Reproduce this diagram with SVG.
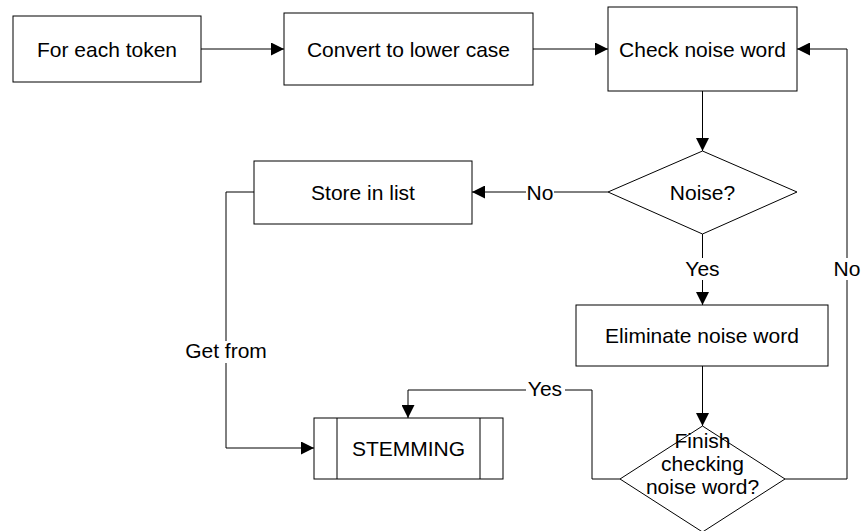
<svg xmlns="http://www.w3.org/2000/svg" width="861" height="531" viewBox="0 0 861 531">
  <style>
    .box { fill: #ffffff; stroke: #000000; stroke-width: 1; }
    .wire { fill: none; stroke: #000000; stroke-width: 1; }
    .txt { font-family: "Liberation Sans", Arial, sans-serif; font-size: 21px; fill: #000000; text-anchor: middle; }
    .lbl-bg { fill: #ffffff; stroke: none; }
  </style>
  <defs>
    <marker id="arrow" markerUnits="userSpaceOnUse" markerWidth="13" markerHeight="13" refX="13" refY="6.5" orient="auto">
      <path d="M0,0 L13,6.5 L0,13 z" fill="#000000"/>
    </marker>
  </defs>
  <rect width="861" height="531" fill="#ffffff"/>

  <!-- connectors -->
  <g id="connectors">
    <path class="wire" d="M201,49 L284,49" marker-end="url(#arrow)"/>
    <path class="wire" d="M533,49 L608,49" marker-end="url(#arrow)"/>
    <path class="wire" d="M702.5,91 L702.5,151" marker-end="url(#arrow)"/>
    <path class="wire" d="M608,192 L472,192" marker-end="url(#arrow)"/>
    <path class="wire" d="M702.5,234 L702.5,305" marker-end="url(#arrow)"/>
    <path class="wire" d="M702.5,366 L702.5,426" marker-end="url(#arrow)"/>
    <path class="wire" d="M785,479 L847,479 L847,49 L797,49" marker-end="url(#arrow)"/>
    <path class="wire" d="M620,479 L592,479 L592,390 L408,390 L408,418" marker-end="url(#arrow)"/>
    <path class="wire" d="M254,192 L226,192 L226,448 L314,448" marker-end="url(#arrow)"/>

    <!-- connector labels -->
    <rect class="lbl-bg" x="526" y="181" width="28" height="22"/>
    <text class="txt" x="540" y="199.5">No</text>
    <rect class="lbl-bg" x="683" y="258" width="39" height="22"/>
    <text class="txt" x="702.5" y="275.5">Yes</text>
    <rect class="lbl-bg" x="833" y="258" width="28" height="22"/>
    <text class="txt" x="847" y="275.5">No</text>
    <rect class="lbl-bg" x="526" y="379" width="39" height="22"/>
    <text class="txt" x="545" y="395.5">Yes</text>
    <rect class="lbl-bg" x="183" y="341" width="86" height="22"/>
    <text class="txt" x="226" y="358">Get from</text>
  </g>

  <!-- nodes -->
  <g id="for-each-token">
    <rect class="box" x="13" y="16" width="188" height="66"/>
    <text class="txt" x="107" y="56.5">For each token</text>
  </g>
  <g id="convert-lower-case">
    <rect class="box" x="284" y="13" width="249" height="72"/>
    <text class="txt" x="408.5" y="56.5">Convert to lower case</text>
  </g>
  <g id="check-noise-word">
    <rect class="box" x="608" y="7" width="189" height="84"/>
    <text class="txt" x="702.5" y="56.5">Check noise word</text>
  </g>
  <g id="noise-decision">
    <polygon class="box" points="702.5,151 797,192 702.5,234 608,192"/>
    <text class="txt" x="702.5" y="199.5">Noise?</text>
  </g>
  <g id="store-in-list">
    <rect class="box" x="254" y="161" width="218" height="63"/>
    <text class="txt" x="363" y="199.5">Store in list</text>
  </g>
  <g id="eliminate-noise-word">
    <rect class="box" x="576" y="305" width="252" height="61"/>
    <text class="txt" x="702" y="343">Eliminate noise word</text>
  </g>
  <g id="finish-decision">
    <polygon class="box" points="702.5,426 785,479 702.5,532 620,479"/>
    <text class="txt" x="702.5" y="448">Finish</text>
    <text class="txt" x="702.5" y="471">checking</text>
    <text class="txt" x="702.5" y="494">noise word?</text>
  </g>
  <g id="stemming">
    <rect class="box" x="314" y="418" width="189" height="61"/>
    <line class="wire" x1="337" y1="418" x2="337" y2="479"/>
    <line class="wire" x1="480" y1="418" x2="480" y2="479"/>
    <text class="txt" x="408.5" y="456">STEMMING</text>
  </g>
</svg>
